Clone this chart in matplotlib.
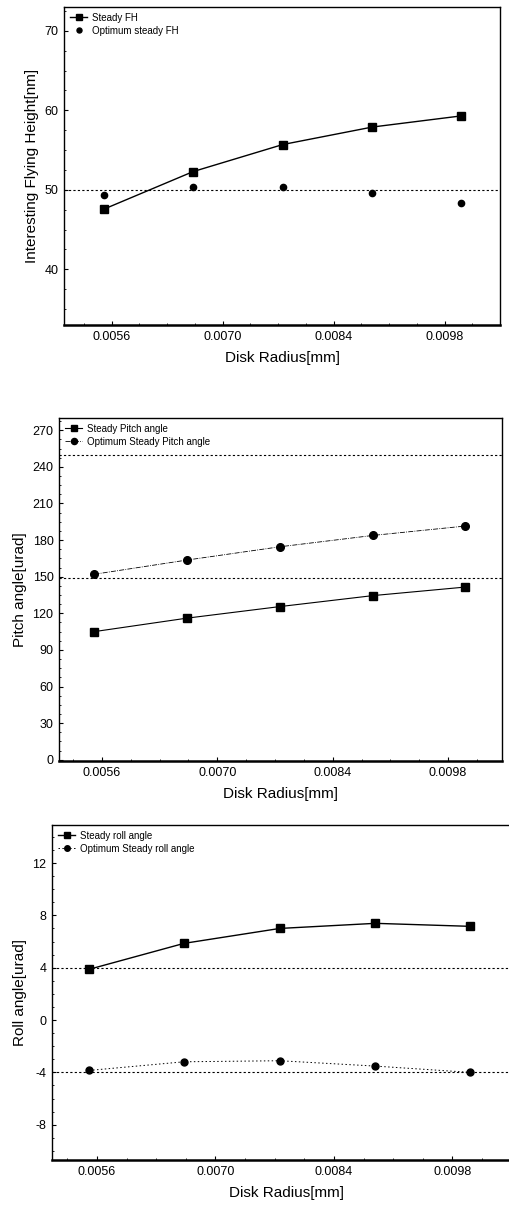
import numpy as np
import matplotlib.pyplot as plt
from matplotlib.ticker import MultipleLocator, AutoMinorLocator

plt.rcParams['font.family'] = ['Liberation Sans', 'DejaVu Sans']
plt.rcParams['axes.unicode_minus'] = False

# - Data
radius = [0.00551, 0.00663, 0.00776, 0.00889, 0.01001]
x_ticks = [0.0056, 0.0070, 0.0084, 0.0098]

fh_steady = [47.6, 52.3, 55.7, 57.9, 59.3]
fh_optimum = [49.4, 50.4, 50.3, 49.6, 48.3]
fh_ref = [50]

pitch_steady = [105, 116, 125.5, 134.5, 141.5]
pitch_optimum = [152, 163.6, 174.5, 183.8, 191.5]
pitch_ref = [250, 149]

roll_steady = [3.88, 5.86, 7.0, 7.39, 7.16]
roll_optimum = [-3.85, -3.19, -3.11, -3.52, -4.0]
roll_ref = [3.97, -4.0]

fig = plt.figure(figsize=(5.1, 12.05), dpi=100)
ax1 = fig.add_axes([0.1255, 0.7303, 0.855, 0.2639])
ax2 = fig.add_axes([0.1157, 0.3685, 0.868, 0.2846])
ax3 = fig.add_axes([0.102, 0.0373, 0.918, 0.278])


def style(ax, xlim, ylim, ystep):
    ax.set_xlim(*xlim)
    ax.set_ylim(*ylim)
    ax.set_xticks(x_ticks)
    ax.set_xticklabels(['{:.4f}'.format(v) for v in x_ticks])
    ax.yaxis.set_major_locator(MultipleLocator(ystep))
    ax.yaxis.set_minor_locator(AutoMinorLocator(4))
    ax.xaxis.set_minor_locator(AutoMinorLocator(4))
    ax.tick_params(which='major', direction='in', length=3, width=0.8, labelsize=9, pad=4)
    ax.tick_params(which='minor', direction='in', length=1.5, width=0.6)
    for s in ax.spines.values():
        s.set_linewidth(1.0)
    ax.spines['bottom'].set_linewidth(1.8)
    ax.set_xlabel('Disk Radius[mm]', fontsize=11, labelpad=6)


def legend(ax):
    ax.legend(loc='upper left', frameon=False, fontsize=7, handlelength=1.8,
              borderaxespad=0.2, labelspacing=0.3, handletextpad=0.5, markerscale=0.8)


# - Flying height
ax1.plot(radius, fh_steady, '-s', color='black', lw=1.0, ms=5.5, label='Steady FH')
ax1.plot(radius, fh_optimum, 'o', color='black', ms=4.5, label='Optimum steady FH')
for v in fh_ref:
    ax1.axhline(v, color='black', lw=0.8, ls=(0, (2, 2)))
style(ax1, (0.005, 0.0105), (33, 73), 10)
ax1.set_ylabel('Interesting Flying Height[nm]', fontsize=11, labelpad=4)
legend(ax1)

# - Pitch angle
ax2.plot(radius, pitch_steady, '-s', color='black', lw=0.8, ms=5.5, label='Steady Pitch angle')
ax2.plot(radius, pitch_optimum, '-o', color='black', lw=0.6, ms=5.5,
         dashes=(6, 1.5, 1, 1.5), label='Optimum Steady Pitch angle')
for v in pitch_ref:
    ax2.axhline(v, color='black', lw=0.8, ls=(0, (2, 2)))
style(ax2, (0.00508, 0.01045), (-1, 280), 30)
ax2.set_ylabel('Pitch angle[urad]', fontsize=11, labelpad=4)
legend(ax2)

# - Roll angle
ax3.plot(radius, roll_steady, '-s', color='black', lw=1.0, ms=5.5, label='Steady roll angle')
ax3.plot(radius, roll_optimum, 'o', color='black', ms=5, ls=(0, (1.5, 2.5)), lw=0.7,
         label='Optimum Steady roll angle')
for v in roll_ref:
    ax3.axhline(v, color='black', lw=0.8, ls=(0, (2, 2)))
style(ax3, (0.00507, 0.0106), (-10.7, 14.9), 4)
ax3.set_ylabel('Roll angle[urad]', fontsize=11, labelpad=4)
legend(ax3)

plt.savefig('out.png', dpi=100)
